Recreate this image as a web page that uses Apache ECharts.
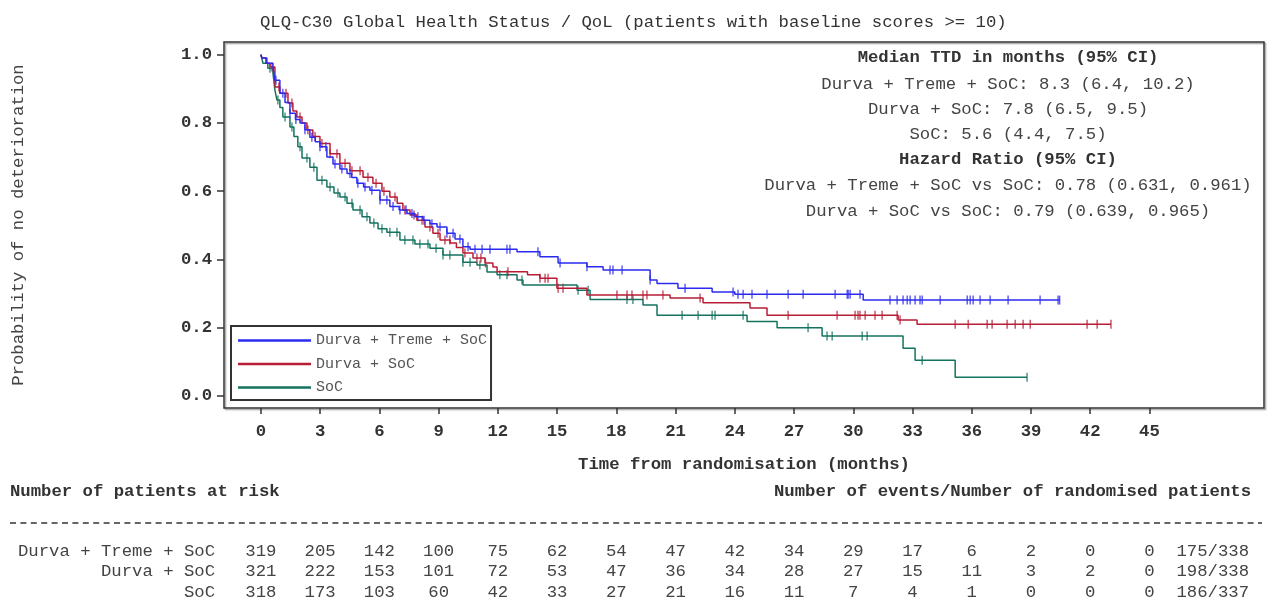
<!DOCTYPE html>
<html><head><meta charset="utf-8">
<script src="https://cdn.jsdelivr.net/npm/echarts@6/dist/echarts.min.js"></script>
<style>html,body{margin:0;padding:0;background:#fff}#c{width:1273px;height:606px}</style>
</head><body><div id="c"></div>
<script>
// ---------------- data ----------------
const seriesNames = ['Durva + Treme + SoC', 'Durva + SoC', 'SoC'];
const chartTitle = 'QLQ-C30 Global Health Status / QoL (patients with baseline scores >= 10)';
const xTicks = [0, 3, 6, 9, 12, 15, 18, 21, 24, 27, 30, 33, 36, 39, 42, 45];
const yTicks = [0, 0.2, 0.4, 0.6, 0.8, 1.0];

// Kaplan-Meier steps [months, survival after drop]
const stepsDT = [[0,1],[0.05,0.99],[0.30,0.975],[0.61,0.964],[0.71,0.925],[0.96,0.887],[1.22,0.86],[1.47,0.828],[1.75,0.81],[1.98,0.80],[2.23,0.78],[2.48,0.758],[2.75,0.745],[2.99,0.73],[3.34,0.70],[3.65,0.68],[4.0,0.665],[4.36,0.652],[4.60,0.64],[4.86,0.623],[5.20,0.612],[5.52,0.603],[6.03,0.574],[6.53,0.555],[7.0,0.545],[7.40,0.535],[7.8,0.525],[8.21,0.515],[8.56,0.505],[8.92,0.495],[9.42,0.477],[9.83,0.46],[10.23,0.437],[10.59,0.43],[12.97,0.423],[14.13,0.408],[15.05,0.39],[16.51,0.379],[17.33,0.369],[19.71,0.34],[20.06,0.33],[21.12,0.316],[22.85,0.305],[24.0,0.298],[30.5,0.281],[40.45,0.281]];
const stepsD = [[0,1],[0.05,0.99],[0.25,0.975],[0.46,0.964],[0.71,0.905],[0.96,0.887],[1.37,0.858],[1.62,0.835],[1.82,0.817],[2.08,0.80],[2.33,0.779],[2.63,0.76],[2.99,0.74],[3.50,0.71],[4.00,0.682],[4.51,0.66],[5.17,0.641],[5.67,0.623],[6.13,0.60],[6.53,0.583],[6.9,0.565],[7.19,0.545],[7.55,0.53],[7.90,0.515],[8.31,0.495],[8.71,0.477],[9.07,0.457],[9.58,0.448],[9.9,0.435],[10.23,0.419],[10.74,0.404],[11.35,0.39],[11.75,0.378],[11.96,0.364],[13.5,0.355],[14.13,0.345],[14.99,0.316],[16.51,0.296],[20.72,0.287],[22.39,0.273],[24.77,0.258],[25.63,0.237],[32.27,0.223],[33.23,0.21],[43.05,0.21]];
const stepsS = [[0,1],[0.10,0.975],[0.35,0.96],[0.61,0.946],[0.71,0.896],[0.81,0.867],[0.96,0.845],[1.11,0.817],[1.47,0.788],[1.67,0.76],[1.87,0.73],[2.08,0.697],[2.48,0.67],[2.84,0.632],[3.34,0.612],[3.70,0.595],[4.00,0.583],[4.36,0.565],[4.66,0.545],[5.12,0.525],[5.52,0.507],[5.93,0.49],[6.38,0.48],[7.04,0.457],[7.80,0.445],[8.56,0.433],[9.22,0.413],[10.23,0.392],[10.94,0.384],[11.45,0.363],[11.96,0.355],[12.97,0.34],[13.27,0.325],[16.01,0.31],[16.67,0.283],[19.35,0.267],[20.06,0.237],[24.62,0.218],[26.14,0.2],[28.42,0.176],[32.52,0.14],[33.13,0.105],[35.16,0.055],[38.8,0.055]];

// censoring times (months)
const censDT = [0.76,1.11,1.47,1.77,2.23,2.58,2.99,3.29,3.75,4.10,4.51,4.91,5.27,5.62,6.03,6.38,6.69,7.04,7.35,7.65,7.95,8.26,8.66,9.07,9.42,9.73,10.08,10.49,10.84,11.20,11.60,12.46,12.61,14.03,15.15,16.51,17.68,17.83,18.29,19.71,21.48,23.91,24.16,24.42,24.87,25.63,26.70,27.46,29.08,29.69,29.74,29.84,30.34,31.86,32.22,32.52,32.73,32.88,33.13,33.38,33.49,34.40,35.77,35.92,36.07,36.42,36.93,37.84,39.46,40.37,40.45];
const censD = [0.56,0.91,1.27,1.57,1.98,2.38,2.74,3.09,3.50,3.85,4.26,4.61,5.02,5.42,5.83,6.23,6.79,7.29,7.75,8.16,8.56,8.97,9.32,9.57,10.33,10.94,11.14,11.37,12.51,14.13,14.39,14.54,15.05,15.30,18.03,18.54,18.79,19.35,19.55,20.36,22.24,26.70,29.18,30.09,30.24,30.34,30.60,31.10,31.46,32.22,32.37,35.16,35.82,36.78,37.03,37.79,38.20,38.60,38.96,41.84,42.35,43.05];
const censS = [0.46,0.86,1.22,1.57,1.98,2.33,2.68,3.09,3.50,3.90,4.26,4.61,5.02,5.37,5.72,6.13,6.53,6.89,7.29,7.70,8.05,8.46,8.87,9.22,9.57,10.23,10.59,11.09,12.10,12.46,13.22,16.06,16.57,18.54,18.84,21.33,22.14,22.85,23.00,24.42,27.71,28.67,28.93,30.45,30.70,33.49,38.80];

// annotation
const medianHeader = 'Median TTD in months (95% CI)';
const medianLines = ['Durva + Treme + SoC: 8.3 (6.4, 10.2)', 'Durva + SoC: 7.8 (6.5, 9.5)', 'SoC: 5.6 (4.4, 7.5)'];
const hrHeader = 'Hazard Ratio (95% CI)';
const hrLines = ['Durva + Treme + SoC vs SoC: 0.78 (0.631, 0.961)', 'Durva + SoC vs SoC: 0.79 (0.639, 0.965)'];

// risk table
const riskHeader = 'Number of patients at risk';
const eventsHeader = 'Number of events/Number of randomised patients';
const riskDT = [319,205,142,100,75,62,54,47,42,34,29,17,6,2,0,0];
const riskD  = [321,222,153,101,72,53,47,36,34,28,27,15,11,3,2,0];
const riskS  = [318,173,103,60,42,33,27,21,16,11,7,4,1,0,0,0];
const eventTotals = ['175/338', '198/338', '186/337'];

// ---------------- chart ----------------
const colors = ['#2b2bf0', '#b81d36', '#13735f'];
const MONO = '"Liberation Mono", "DejaVu Sans Mono", monospace';
const FS = 17.3;

function survAt(steps, t) {
  let s = steps[0][1];
  for (const p of steps) { if (p[0] <= t) s = p[1]; else break; }
  return s;
}

const allSteps = [stepsDT, stepsD, stepsS];
const allCens = [censDT, censD, censS];

const series = [];
seriesNames.forEach((name, i) => {
  series.push({
    name: name, type: 'line', step: 'end', data: allSteps[i],
    symbol: 'none', showSymbol: false,
    lineStyle: { color: colors[i], width: 1.5 }, itemStyle: { color: colors[i] },
    z: 3 - i, silent: true
  });
});
seriesNames.forEach((name, i) => {
  series.push({
    name: name + ' censored', type: 'scatter',
    data: allCens[i].map(t => [t, survAt(allSteps[i], t)]),
    symbol: 'rect', symbolSize: [1.4, 9],
    itemStyle: { color: colors[i] }, z: 3 - i, silent: true
  });
});

const chart = echarts.init(document.getElementById('c'), null, { renderer: 'canvas' });
chart.setOption({
  animation: false,
  backgroundColor: '#fff',
  title: {
    text: chartTitle, left: 255, top: 9,
    textStyle: { fontFamily: MONO, fontSize: FS, fontWeight: 'normal', color: '#333' }
  },
  grid: {
    left: 224, top: 42, width: 1040, height: 366, show: true,
    outerBoundsMode: 'none', containLabel: false,
    borderColor: '#333', borderWidth: 1.5,
    shadowColor: 'rgba(0,0,0,0.35)', shadowOffsetX: 1.5, shadowOffsetY: 1.5, shadowBlur: 1
  },
  legend: {
    orient: 'vertical', left: 231, top: 326,
    data: seriesNames,
    icon: 'rect',
    padding: [7, 4, 5, 7], itemGap: 8.5, itemWidth: 73, itemHeight: 2.5,
    borderColor: '#333', borderWidth: 2, backgroundColor: '#fff',
    textStyle: { fontFamily: MONO, fontSize: 15, color: '#555' },
    selectedMode: false
  },
  xAxis: {
    type: 'value', min: -1.87, max: 50.8,
    name: 'Time from randomisation (months)', nameLocation: 'middle', nameGap: 48,
    nameTextStyle: { fontFamily: MONO, fontSize: FS, fontWeight: 'bold', color: '#333' },
    axisLine: { show: false, onZero: false },
    axisTick: { show: true, customValues: xTicks, length: 6, lineStyle: { color: '#333', width: 1.5 } },
    axisLabel: { customValues: xTicks, margin: 15, fontFamily: MONO, fontSize: FS, fontWeight: 'bold', color: '#333' },
    splitLine: { show: false }
  },
  yAxis: {
    type: 'value', min: -0.035, max: 1.037,
    name: 'Probability of no deterioration', nameLocation: 'middle', nameRotate: 90, nameGap: 197,
    nameTextStyle: { fontFamily: MONO, fontSize: FS, fontWeight: 'normal', color: '#444' },
    axisLine: { show: false, onZero: false },
    axisTick: { show: true, customValues: yTicks, length: 7, lineStyle: { color: '#333', width: 1.5 } },
    axisLabel: { customValues: yTicks, margin: 12, fontFamily: MONO, fontSize: FS, fontWeight: 'bold', color: '#333',
      formatter: v => v.toFixed(1) },
    splitLine: { show: false }
  },
  series: series
});

// ---------- text annotations and risk table ----------
function txt(text, x, y, align, bold, color) {
  return {
    type: 'text', x: x, y: y, silent: true,
    style: {
      text: text, fill: color || '#333',
      font: (bold ? 'bold ' : '') + FS + 'px ' + MONO,
      align: align, textAlign: align, verticalAlign: 'middle', textVerticalAlign: 'middle'
    }
  };
}
const g = [];
const annX = 1008;
const annY = [58, 84, 109, 134, 160, 185, 211];
const annTexts = [medianHeader].concat(medianLines, [hrHeader], hrLines);
annTexts.forEach((t, i) => {
  const bold = (t === medianHeader || t === hrHeader);
  g.push(txt(t, annX, annY[i], 'center', bold, bold ? '#333' : '#444'));
});

g.push(txt(riskHeader, 10, 492, 'left', true));
g.push(txt(eventsHeader, 1251, 492, 'right', true));
g.push({ type: 'line', silent: true, shape: { x1: 10, y1: 523, x2: 1262, y2: 523 },
  style: { stroke: '#333', lineWidth: 1.5, lineDash: [6, 4.4] } });

const rowsY = [551, 571, 592];
const riskRows = [riskDT, riskD, riskS];
seriesNames.forEach((name, r) => {
  g.push(txt(name, 215, rowsY[r], 'right', false, '#444'));
  riskRows[r].forEach((n, k) => {
    const px = chart.convertToPixel({ xAxisIndex: 0 }, xTicks[k]);
    g.push(txt(String(n), px, rowsY[r], 'center', false, '#444'));
  });
  g.push(txt(eventTotals[r], 1249, rowsY[r], 'right', false, '#444'));
});
chart.setOption({ graphic: { elements: g } });
</script>
</body></html>
